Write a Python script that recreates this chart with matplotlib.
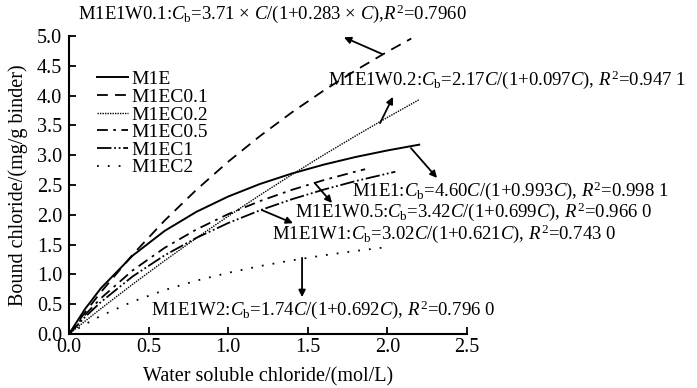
import matplotlib
matplotlib.use('Agg')
import matplotlib.pyplot as plt

plt.rcParams['font.family'] = 'Liberation Serif'
plt.rcParams['mathtext.fontset'] = 'custom'
plt.rcParams['mathtext.rm'] = 'Liberation Serif'
plt.rcParams['mathtext.it'] = 'Liberation Serif:italic'
plt.rcParams['font.size'] = 14

# values
labels = ['M1E', 'M1EC0.1', 'M1EC0.2', 'M1EC0.5', 'M1EC1', 'M1EC2']

x_m1e = [0, 0.1, 0.2, 0.4, 0.6, 0.8, 1.0, 1.2, 1.4, 1.6, 1.8, 2.0, 2.2]
y_m1e = [0, 0.418, 0.768, 1.317, 1.730, 2.051, 2.308, 2.519, 2.694, 2.843, 2.971, 3.081, 3.178]

x_c01 = [0, 0.1, 0.2, 0.4, 0.6, 0.8, 1.0, 1.2, 1.4, 1.6, 1.8, 2.0, 2.15]
y_c01 = [0, 0.361, 0.702, 1.333, 1.903, 2.420, 2.892, 3.323, 3.720, 4.086, 4.424, 4.738, 4.959]

x_c02 = [0, 0.1, 0.2, 0.4, 0.6, 0.8, 1.0, 1.2, 1.4, 1.6, 1.8, 2.0, 2.2]
y_c02 = [0, 0.215, 0.426, 0.836, 1.230, 1.611, 1.978, 2.333, 2.675, 3.006, 3.325, 3.635, 3.934]

x_c05 = [0, 0.1, 0.2, 0.4, 0.6, 0.8, 1.0, 1.2, 1.4, 1.6, 1.8, 1.86]
y_c05 = [0, 0.320, 0.600, 1.069, 1.446, 1.755, 2.013, 2.232, 2.420, 2.583, 2.726, 2.766]

x_c1 = [0, 0.1, 0.2, 0.4, 0.6, 0.8, 1.0, 1.2, 1.4, 1.6, 1.8, 2.05]
y_c1 = [0, 0.284, 0.537, 0.968, 1.320, 1.614, 1.863, 2.077, 2.262, 2.424, 2.567, 2.724]

x_c2 = [0, 0.1, 0.2, 0.4, 0.6, 0.8, 1.0, 1.2, 1.4, 1.6, 1.8, 2.0]
y_c2 = [0, 0.163, 0.306, 0.545, 0.738, 0.896, 1.028, 1.141, 1.237, 1.321, 1.395, 1.460]

xs = [x_m1e, x_c01, x_c02, x_c05, x_c1, x_c2]
ys = [y_m1e, y_c01, y_c02, y_c05, y_c1, y_c2]
styles = ['-', (0, (6, 4)), (0, (1, 0.8)), (0, (6, 3, 1.5, 3)),
          (0, (8, 1.5, 1, 1.5, 1, 1.5)), (0, (1, 5))]
widths = [1.4, 1.3, 1.0, 1.3, 1.3, 1.3]

fig = plt.figure(figsize=(6.97, 3.88), dpi=100)
ax = fig.add_axes([0.099, 0.139, 0.571, 0.768])

for x, y, ls, lw, lab in zip(xs, ys, styles, widths, labels):
    ax.plot(x, y, color='k', linestyle=ls, linewidth=lw, label=lab)

ax.set_xlim(0, 2.5)
ax.set_ylim(0, 5.0)
ax.set_xticks([0, 0.5, 1.0, 1.5, 2.0, 2.5])
ax.set_yticks([i * 0.5 for i in range(11)])
ax.xaxis.set_major_formatter(matplotlib.ticker.FormatStrFormatter('%.1f'))
ax.yaxis.set_major_formatter(matplotlib.ticker.FormatStrFormatter('%.1f'))
ax.tick_params(direction='in', length=5, width=1.3, labelsize=14.5, pad=3)
ax.tick_params(axis='y', pad=5)
ax.spines['top'].set_visible(False)
ax.spines['right'].set_visible(False)
ax.spines['left'].set_linewidth(1.5)
ax.spines['bottom'].set_linewidth(1.5)
ax.set_xlabel('Water soluble chloride/(mol/L)', fontsize=14.5, labelpad=7)
ax.set_ylabel('Bound chloride/(mg/g binder)', fontsize=14.5, labelpad=6)

ax.legend(loc='upper left', bbox_to_anchor=(0.05, 0.91), frameon=False,
          handlelength=1.6, handletextpad=0.2, labelspacing=0.0,
          borderaxespad=0, fontsize=14)

# equations and arrows
notes = [
    (r'M1E1W0.1:$C_\mathrm{b}$=3.71 × $C$/(1+0.283 × $C$),$R^2$=0.7960', (0.057, 5.37), (1.966, 4.70), (1.727, 4.98)),
    (r'M1E1W0.2:$C_\mathrm{b}$=2.17$C$/(1+0.097$C$), $R^2$=0.947 1', (1.627, 4.26), (1.954, 3.54), (2.035, 3.98)),
    (r'M1E1:$C_\mathrm{b}$=4.60$C$/(1+0.993$C$), $R^2$=0.998 1', (1.778, 2.40), (2.148, 3.12), (2.312, 2.62)),
    (r'M1E1W0.5:$C_\mathrm{b}$=3.42$C$/(1+0.699$C$), $R^2$=0.966 0', (1.420, 2.06), (1.545, 2.53), (1.652, 2.20)),
    (r'M1E1W1:$C_\mathrm{b}$=3.02$C$/(1+0.621$C$), $R^2$=0.743 0', (1.275, 1.68), (1.212, 2.08), (1.407, 1.86)),
    (r'M1E1W2:$C_\mathrm{b}$=1.74$C$/(1+0.692$C$), $R^2$=0.796 0', (0.515, 0.40), (1.464, 1.28), (1.464, 0.62)),
]
for txt, tpos, tail, head in notes:
    ax.text(tpos[0], tpos[1], txt, fontsize=13.5, ha='left', va='center', clip_on=False)
    ax.annotate('', xy=head, xytext=tail, annotation_clip=False,
                arrowprops=dict(arrowstyle='-|>', color='k', lw=1.3,
                                mutation_scale=10, shrinkA=0, shrinkB=0))

fig.savefig('out.png', dpi=100)
